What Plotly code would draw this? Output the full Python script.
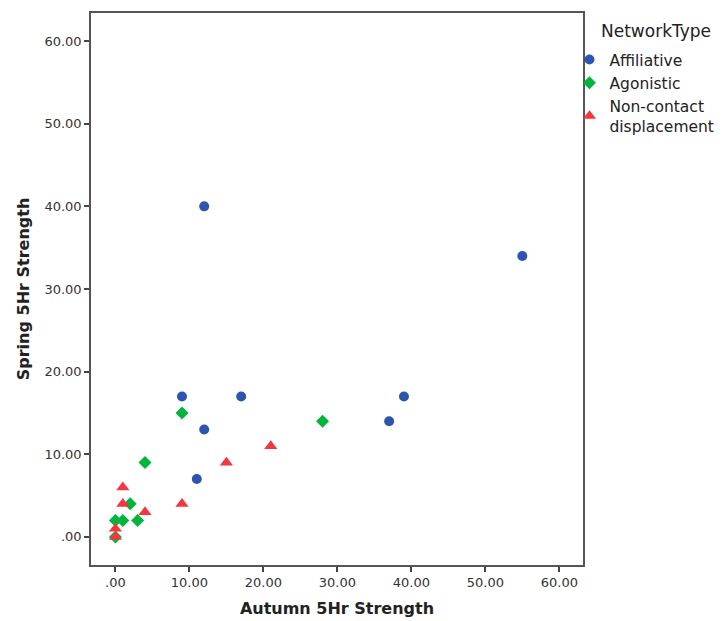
import plotly.graph_objects as go

# Data
affiliative_x = [12, 55, 9, 17, 39, 37, 12, 11]
affiliative_y = [40, 34, 17, 17, 17, 14, 13, 7]

agonistic_x = [9, 28, 4, 2, 0, 1, 3, 0]
agonistic_y = [15, 14, 9, 4, 2, 2, 2, 0]

noncontact_x = [21, 15, 1, 1, 9, 4, 0, 0]
noncontact_y = [11, 9, 6, 4, 4, 3, 1, 0]

tick_vals = [0, 10, 20, 30, 40, 50, 60]
tick_text = [".00", "10.00", "20.00", "30.00", "40.00", "50.00", "60.00"]

FONT = "DejaVu Sans"
BLUE = "#2E55AE"
GREEN = "#00B43C"
RED = "#F6363F"

fig = go.Figure()
fig.add_trace(go.Scatter(x=affiliative_x, y=affiliative_y, mode="markers", name="Affiliative",
                         marker=dict(symbol="circle", size=10, color=BLUE)))
fig.add_trace(go.Scatter(x=agonistic_x, y=agonistic_y, mode="markers", name="Agonistic",
                         marker=dict(symbol="diamond", size=10, color=GREEN)))
fig.add_trace(go.Scatter(x=noncontact_x, y=noncontact_y, mode="markers", name="Non-contact<br>displacement",
                         marker=dict(symbol="triangle-up", size=11.5, color=RED)))

axis_common = dict(
    tickvals=tick_vals, ticktext=tick_text, showgrid=False, zeroline=False,
    showline=True, linecolor="#555555", linewidth=1.5, mirror=True,
    ticks="outside", ticklen=5, tickwidth=1.5, tickcolor="#444444",
    tickfont=dict(family=FONT, size=13, color="#333333"),
    automargin=False,
)

# page body has an 8px margin, so the figure is sized to fit the window
fig.update_layout(
    width=714, height=613,
    margin=dict(l=83, r=139, t=5, b=56, autoexpand=False),
    paper_bgcolor="white", plot_bgcolor="white",
    font=dict(family=FONT),
    xaxis=dict(range=[-3.3, 63.2],
               title=dict(text="<b>Autumn 5Hr Strength</b>", font=dict(family=FONT, size=16, color="#222222"), standoff=13),
               **axis_common),
    yaxis=dict(range=[-3.4, 63.4],
               title=dict(text="<b>Spring 5Hr Strength</b>", font=dict(family=FONT, size=16, color="#222222"), standoff=11),
               **axis_common),
    legend=dict(x=0.9725, xanchor="left", y=0.9457, yanchor="top",
                font=dict(family=FONT, size=15.5, color="#222222"),
                bgcolor="rgba(0,0,0,0)", itemwidth=30, tracegroupgap=0),
    showlegend=True,
    annotations=[dict(text="NetworkType", xref="paper", yref="paper", x=1.033, y=0.967,
                      xanchor="left", yanchor="middle", showarrow=False,
                      font=dict(family=FONT, size=17, color="#222222"))],
)

fig.write_html("out.html")
